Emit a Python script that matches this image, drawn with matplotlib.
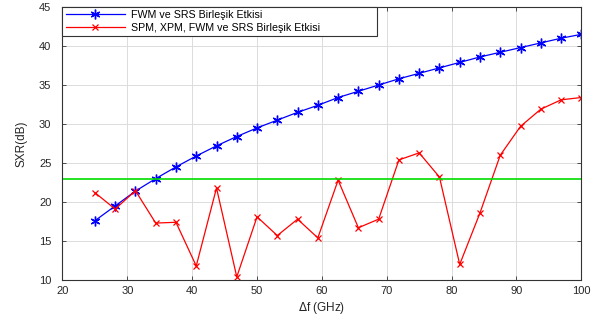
import matplotlib
matplotlib.use("Agg")
import matplotlib.pyplot as plt
import numpy as np

plt.rcParams['font.family'] = ['Liberation Sans', 'DejaVu Sans']

freq = [25.0, 28.125, 31.25, 34.375, 37.5, 40.625, 43.75, 46.875, 50.0, 53.125,
        56.25, 59.375, 62.5, 65.625, 68.75, 71.875, 75.0, 78.125, 81.25, 84.375,
        87.5, 90.625, 93.75, 96.875, 100.0]
fwm_srs = [17.6, 19.5, 21.4, 23.0, 24.5, 25.9, 27.2, 28.4, 29.5, 30.5,
           31.5, 32.4, 33.4, 34.2, 35.0, 35.8, 36.5, 37.2, 37.9, 38.6,
           39.2, 39.8, 40.4, 41.0, 41.5]
all_effects = [21.2, 19.1, 21.45, 17.3, 17.4, 11.8, 21.8, 10.4, 18.1, 15.7,
               17.8, 15.4, 22.8, 16.7, 17.8, 25.4, 26.3, 23.2, 12.0, 18.6,
               26.0, 29.7, 31.9, 33.1, 33.4]
threshold = 23.0
labels = ["FWM ve SRS Birleşik Etkisi", "SPM, XPM, FWM ve SRS Birleşik Etkisi"]

fig = plt.figure(figsize=(5.95, 3.2), dpi=100)
ax = fig.add_axes([0.105, 0.125, 0.872, 0.853])

ax.plot(freq, fwm_srs, color='#0000ff', marker=(6, 2, 0), markersize=7, linewidth=0.9,
        markeredgewidth=1.0, label=labels[0])
ax.plot(freq, all_effects, color='#ff0000', marker='x', markersize=5, linewidth=0.9,
        markeredgewidth=0.9, label=labels[1])
ax.axhline(threshold, color='#00dd00', linewidth=1.2)

ax.set_xlim(20, 100)
ax.set_ylim(10, 45)
ax.set_xticks(np.arange(20, 101, 10))
ax.set_yticks(np.arange(10, 46, 5))
ax.grid(True, color='#dcdcdc', linewidth=0.7)
ax.set_axisbelow(True)
ax.tick_params(direction='in', length=3, labelsize=8, colors='#333333',
               top=True, right=True, width=0.6)
ax.tick_params(axis='both', labelcolor='#262626')
ax.tick_params(axis='y', pad=8)
ax.tick_params(axis='x', pad=4)
for s in ax.spines.values():
    s.set_color('#333333')
    s.set_linewidth(0.8)

ax.set_xlabel('$\\Delta$f (GHz)', fontsize=8.5, color='#262626', labelpad=3)
ax.set_ylabel('SXR(dB)', fontsize=8.5, color='#262626', labelpad=8)

leg = ax.legend(loc='lower left', fontsize=7.7, frameon=True, fancybox=False,
                bbox_to_anchor=(0.0, 0.893, 0.607, 0.107), mode='expand',
                borderaxespad=0, handlelength=5.5, borderpad=0.3,
                labelspacing=0.3, handletextpad=0.6)
leg.get_frame().set_edgecolor('#333333')
leg.get_frame().set_linewidth(0.8)
leg.get_frame().set_alpha(1)

fig.savefig('out.png', dpi=100)
